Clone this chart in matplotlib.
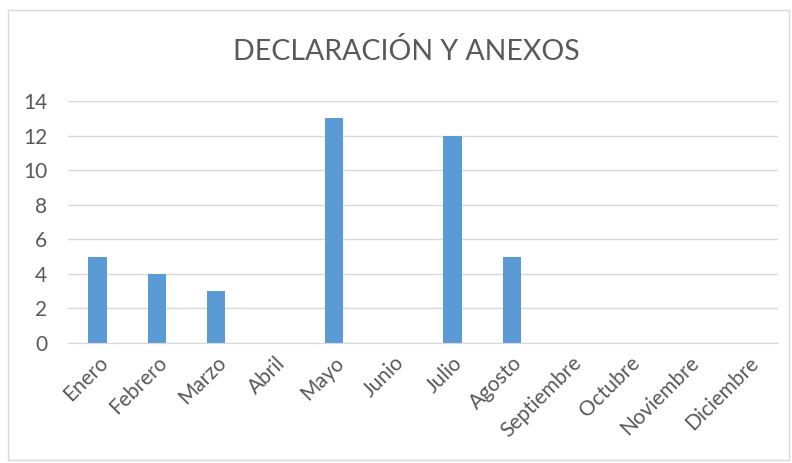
import matplotlib
matplotlib.use("Agg")
import matplotlib.pyplot as plt
from matplotlib.patches import Rectangle

months = ["Enero", "Febrero", "Marzo", "Abril", "Mayo", "Junio", "Julio",
          "Agosto", "Septiembre", "Octubre", "Noviembre", "Diciembre"]
values = [5, 4, 3, 0, 13, 0, 12, 5, 0, 0, 0, 0]
yticks = [0, 2, 4, 6, 8, 10, 12, 14]
title = "DECLARACIÓN Y ANEXOS"

plt.rcParams['font.family'] = ['Lato', 'DejaVu Sans']
grey = '#595959'

fig = plt.figure(figsize=(7.92, 4.63), dpi=100)
fig.patch.set_facecolor('white')
fig.patches.append(Rectangle((8/792, 1 - 460/463), 781/792, 450/463,
                             transform=fig.transFigure, fill=False,
                             edgecolor='#D9D9D9', linewidth=1))
ax = fig.add_axes([68/792, 1 - 343/463, 710/792, (343 - 101)/463])
x = range(len(months))
ax.bar(x, values, width=0.31, color='#5B9BD5', zorder=3)
ax.set_xlim(-0.5, len(months) - 0.5)
ax.set_ylim(0, 14)
ax.set_yticks(yticks)
ax.set_yticklabels([str(v) for v in yticks], fontsize=15, color=grey)
ax.set_xticks(list(x))
ax.set_xticklabels(months, rotation=45, ha='right', rotation_mode='anchor',
                   fontsize=15, color=grey)
ax.tick_params(axis='y', length=0, pad=15)
ax.tick_params(axis='x', length=0, pad=7)
ax.grid(axis='y', color='#D9D9D9', linewidth=1, zorder=0)
for s in ['top', 'right', 'left']:
    ax.spines[s].set_visible(False)
ax.spines['bottom'].set_color('#D9D9D9')
ax.spines['bottom'].set_zorder(4)
fig.text(0.5 + 10/792, 1 - 52/463, title, ha='center', va='center', fontsize=20.5, color=grey)
fig.savefig('out.png', dpi=100)
